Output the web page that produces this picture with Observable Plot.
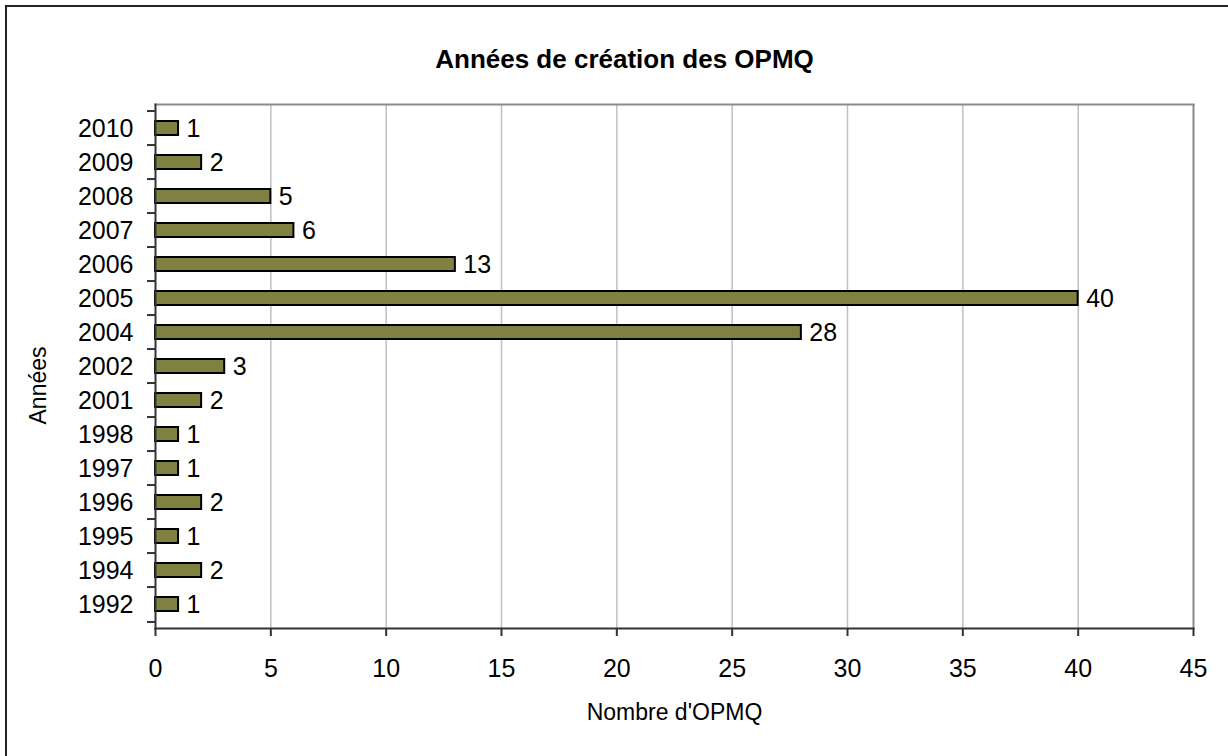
<!DOCTYPE html>
<html>
<head>
<meta charset="utf-8">
<script src="https://cdn.jsdelivr.net/npm/d3@7"></script>
<script src="https://cdn.jsdelivr.net/npm/@observablehq/plot@0.6"></script>
<style>
  html, body { margin: 0; padding: 0; background: #fff; }
  #wrap { position: relative; width: 1228px; height: 756px; overflow: hidden; }
  #border { position: absolute; left: 5px; top: 5px; width: 1260px; height: 800px; border-left: 2px solid #222; border-top: 2px solid #222; box-sizing: border-box; }
  #chart { position: absolute; left: 0; top: 0; }
</style>
</head>
<body>
<div id="wrap"><div id="border"></div><div id="chart"></div></div>
<script>
const title = "Années de création des OPMQ";
const xLabel = "Nombre d'OPMQ";
const yLabel = "Années";
const years = ["2010","2009","2008","2007","2006","2005","2004","2002","2001","1998","1997","1996","1995","1994","1992"];
const counts = [1, 2, 5, 6, 13, 40, 28, 3, 2, 1, 1, 2, 1, 2, 1];
const xTicks = [0, 5, 10, 15, 20, 25, 30, 35, 40, 45];

const data = years.map((y, i) => ({year: y, n: counts[i]}));

const W = 1228, H = 756;
const mL = 155, mR = 35, mT = 104, mB = 128;
const step = (H - mT - mB) / years.length;
const font = "'Liberation Sans', Arial, sans-serif";

const chart = Plot.plot({
  width: W,
  height: H,
  marginLeft: mL,
  marginRight: mR,
  marginTop: mT,
  marginBottom: mB,
  style: {fontFamily: font, fontSize: "25px", color: "#000", background: "transparent"},
  x: {domain: [0, 45], ticks: xTicks},
  y: {type: "band", domain: years, paddingInner: 0.6, paddingOuter: 0.3},
  marks: [
    Plot.gridX(xTicks.slice(1, -1), {stroke: "#c0c0c0", strokeOpacity: 1, strokeWidth: 1.5}),
    Plot.ruleX([45], {stroke: "#8a8a8a", strokeWidth: 2}),
    Plot.frame({anchor: "top", stroke: "#8a8a8a", strokeWidth: 2}),
    Plot.barX(data, {x: "n", y: "year", fill: "#808040", stroke: "#000", strokeWidth: 2}),
    Plot.text(data, {x: "n", y: "year", text: d => String(d.n), textAnchor: "start", dx: 8, fontSize: 25}),
    Plot.frame({anchor: "left", stroke: "#333", strokeWidth: 2}),
    Plot.frame({anchor: "bottom", stroke: "#333", strokeWidth: 2}),
    Plot.axisX({ticks: xTicks, tickSize: 8, tickPadding: 23, stroke: "#333", strokeWidth: 2, label: null, fontSize: 25}),
    Plot.axisY({tickSize: 8, text: null, dy: -step / 2, stroke: "#333", strokeWidth: 2, label: null}),
    Plot.axisY(["1992"], {tickSize: 8, text: null, dy: step / 2, stroke: "#333", strokeWidth: 2, label: null}),
    Plot.axisY({tickSize: 0, tickPadding: 22, label: null, fontSize: 25}),
    Plot.text([xLabel], {frameAnchor: "bottom", dy: 91, fontSize: 23}),
    Plot.text([yLabel], {frameAnchor: "left", textAnchor: "middle", dx: -117, dy: 19, rotate: -90, fontSize: 23}),
    Plot.text([title], {frameAnchor: "top", dy: -55, dx: -50, fontSize: 26, fontWeight: "bold"})
  ]
});
document.getElementById("chart").appendChild(chart);
</script>
</body>
</html>
